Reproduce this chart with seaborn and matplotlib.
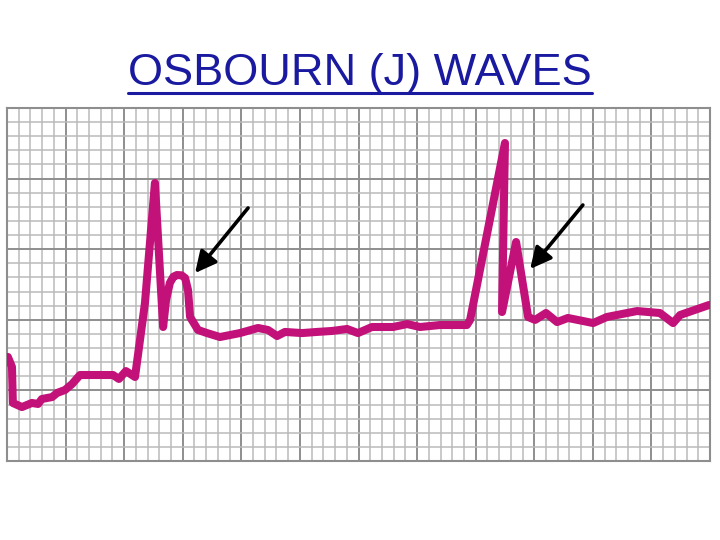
import matplotlib
matplotlib.use("Agg")
import matplotlib.pyplot as plt
from matplotlib.lines import Line2D
from matplotlib.ticker import MultipleLocator
import seaborn as sns
import pandas as pd

# ECG trace, time in s (0.04 s per small box), amplitude in mV (0.1 mV per small box)
time_s = [0.003, 0.017, 0.020, 0.051, 0.085, 0.106, 0.119, 0.154, 0.171, 0.198,
          0.222, 0.249, 0.362, 0.382, 0.406, 0.437, 0.471, 0.505, 0.533, 0.543,
          0.556, 0.568, 0.580, 0.596, 0.608, 0.618, 0.625, 0.652, 0.683, 0.727,
          0.795, 0.857, 0.891, 0.922, 0.949, 1.007, 1.058, 1.110, 1.161, 1.198,
          1.246, 1.318, 1.366, 1.410, 1.478, 1.570, 1.581, 1.700, 1.690, 1.738,
          1.779, 1.803, 1.840, 1.878, 1.915, 2.001, 2.048, 2.151, 2.229, 2.274,
          2.298, 2.397]
volt_mv = [0.737, 0.666, 0.411, 0.382, 0.411, 0.404, 0.439, 0.453, 0.482, 0.503,
           0.545, 0.609, 0.609, 0.581, 0.637, 0.595, 1.119, 1.969, 0.949, 1.140,
           1.261, 1.305, 1.317, 1.315, 1.296, 1.211, 1.020, 0.928, 0.906, 0.878,
           0.906, 0.942, 0.928, 0.885, 0.914, 0.906, 0.914, 0.921, 0.935, 0.906,
           0.949, 0.949, 0.970, 0.949, 0.963, 0.963, 0.999, 2.252, 1.055, 1.551,
           1.020, 0.999, 1.048, 0.984, 1.013, 0.977, 1.020, 1.062, 1.048, 0.977,
           1.034, 1.105]

# J-wave arrows (tail -> tip)
arrow_tail = [(0.823, 1.792), (1.966, 1.813)]
arrow_tip = [(0.642, 1.331), (1.786, 1.360)]

title = "OSBOURN (J) WAVES"

ecg = pd.DataFrame({"t": time_s, "mv": volt_mv})

sns.set_theme(style="white")
plt.rcParams["font.family"] = ["Liberation Sans", "DejaVu Sans"]

fig = plt.figure(figsize=(7.2, 5.4), dpi=100)
ax = fig.add_axes([7 / 720, 1 - 461 / 540, 703 / 720, 353 / 540])

sns.lineplot(data=ecg, x="t", y="mv", sort=False, estimator=None, ax=ax,
             color="#c2127a", lw=5.8, solid_joinstyle="round",
             solid_capstyle="round", zorder=3)

ax.set_xlim(0, 2.4)
ax.set_ylim(0, 2.5)
ax.xaxis.set_major_locator(MultipleLocator(0.2))
ax.xaxis.set_minor_locator(MultipleLocator(0.04))
ax.yaxis.set_major_locator(MultipleLocator(0.5))
ax.yaxis.set_minor_locator(MultipleLocator(0.1))
ax.grid(which="minor", color="#bababa", lw=1.1)
ax.grid(which="major", color="#8e8e8e", lw=1.4)
ax.set_axisbelow(True)
ax.tick_params(which="both", length=0, labelbottom=False, labelleft=False)
ax.set_xlabel("")
ax.set_ylabel("")
for s in ax.spines.values():
    s.set_color("#8e8e8e")
    s.set_linewidth(1.5)

for tail, tip in zip(arrow_tail, arrow_tip):
    ax.annotate("", xy=tip, xytext=tail,
                arrowprops=dict(arrowstyle="-|>", color="black", lw=2.6,
                                mutation_scale=32, shrinkA=0, shrinkB=0),
                zorder=4)

txt = fig.text(0.5, 1 - 85 / 540, title, ha="center", va="baseline",
               fontsize=32.5, color="#1a1aa0")

# underline the title
fig.canvas.draw()
bb = txt.get_window_extent(fig.canvas.get_renderer())
x0, x1 = bb.x0 / 720, bb.x1 / 720
fig.add_artist(Line2D([x0, x1], [1 - 93 / 540, 1 - 93 / 540],
                      color="#1a1aa0", lw=2.2, transform=fig.transFigure))

plt.savefig("out.png", dpi=100)
plt.close()
